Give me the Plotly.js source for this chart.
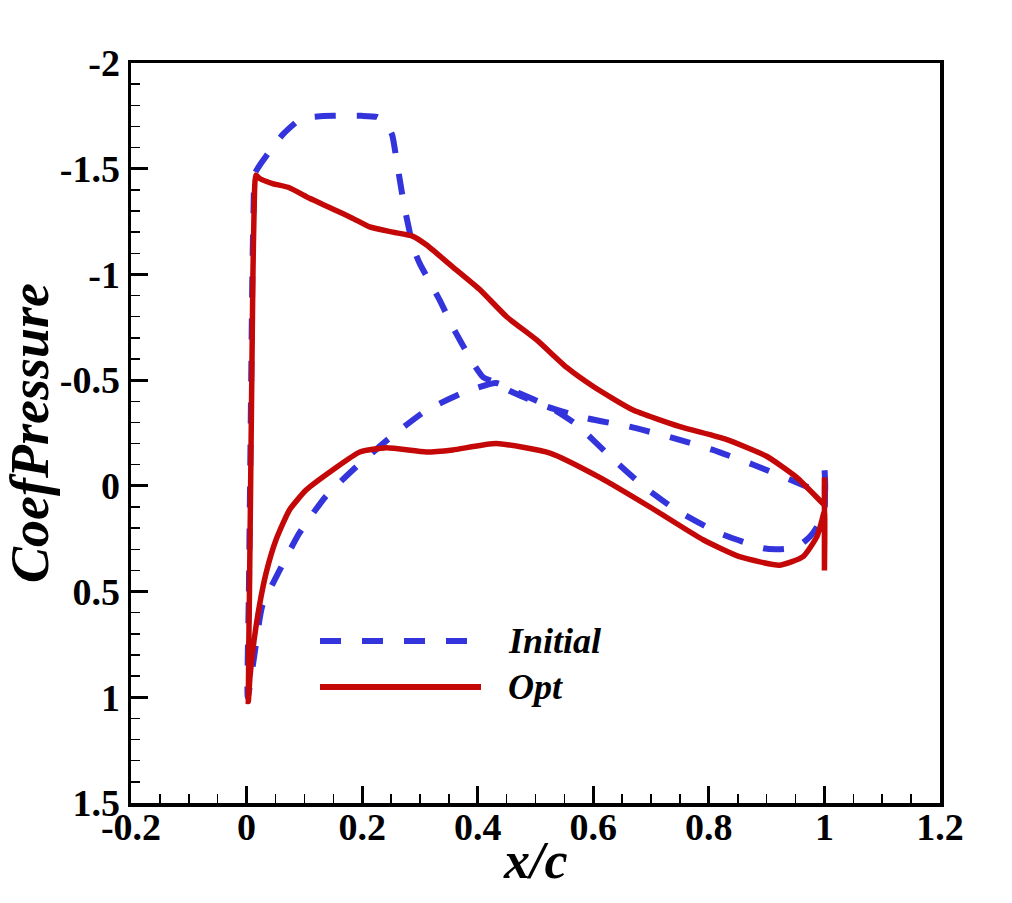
<!DOCTYPE html>
<html>
<head>
<meta charset="utf-8">
<script src="https://cdn.plot.ly/plotly-3.0.1.min.js"></script>
<style>html,body{margin:0;padding:0;background:#fff;}#chart{width:1012px;height:903px;}</style>
</head>
<body>
<div id="chart"></div>
<script>
// ---- Data ----
const seriesNames = ["Initial", "Opt"];

// Initial: upper surface (LE -> TE), trailing-edge base, lower surface (TE -> LE)
const initialX = [0.002, 0.004, 0.006, 0.008, 0.010, 0.012, 0.015, 0.034, 0.062, 0.091, 0.114, 0.150, 0.200, 0.225, 0.240, 0.252, 0.259, 0.265, 0.273, 0.280, 0.288, 0.300, 0.322, 0.334, 0.357, 0.369, 0.392, 0.409, 0.432, 0.455, 0.519, 0.588, 0.663, 0.733, 0.807, 0.877, 0.940, 0.975, 1.000,
  1.000, 1.000,
  0.987, 0.975, 0.952, 0.920, 0.894, 0.819, 0.744, 0.686, 0.629, 0.571, 0.520, 0.470, 0.432, 0.374, 0.310, 0.247, 0.190, 0.137, 0.091, 0.057, 0.027, 0.013, 0.002];
const initialY = [1.00, 0.50, 0.00, -0.50, -1.00, -1.30, -1.48, -1.56, -1.66, -1.73, -1.745, -1.75, -1.75, -1.745, -1.72, -1.66, -1.55, -1.45, -1.32, -1.23, -1.13, -1.05, -0.94, -0.88, -0.75, -0.69, -0.58, -0.515, -0.487, -0.45, -0.375, -0.32, -0.28, -0.23, -0.17, -0.10, -0.03, 0.01, 0.04,
  -0.085, 0.12,
  0.195, 0.24, 0.29, 0.30, 0.295, 0.225, 0.115, 0.00, -0.14, -0.29, -0.38, -0.44, -0.487, -0.44, -0.355, -0.225, -0.09, 0.05, 0.225, 0.40, 0.57, 0.81, 1.00];

// Opt: upper surface (LE -> TE), trailing-edge base, lower surface (TE -> LE)
const optX = [0.003, 0.005, 0.007, 0.009, 0.011, 0.013, 0.016, 0.022, 0.045, 0.074, 0.109, 0.149, 0.184, 0.213, 0.253, 0.288, 0.311, 0.357, 0.403, 0.450, 0.502, 0.554, 0.600, 0.668, 0.750, 0.830, 0.900, 0.952, 0.996, 1.000,
  1.000, 1.000, 1.000,
  0.995, 0.987, 0.963, 0.923, 0.853, 0.790, 0.698, 0.611, 0.525, 0.432, 0.357, 0.311, 0.242, 0.196, 0.149, 0.103, 0.074, 0.051, 0.034, 0.022, 0.013, 0.006, 0.003];
const optY = [1.02, 0.50, 0.00, -0.50, -1.00, -1.30, -1.47, -1.455, -1.43, -1.41, -1.36, -1.31, -1.265, -1.225, -1.20, -1.18, -1.14, -1.035, -0.93, -0.80, -0.69, -0.56, -0.47, -0.36, -0.28, -0.22, -0.14, -0.04, 0.08, 0.09,
  -0.04, 0.40, 0.12,
  0.17, 0.24, 0.335, 0.375, 0.335, 0.255, 0.10, -0.04, -0.155, -0.20, -0.17, -0.16, -0.18, -0.16, -0.075, 0.02, 0.115, 0.255, 0.41, 0.57, 0.73, 0.90, 1.02];

const xTickVals = [-0.2, 0, 0.2, 0.4, 0.6, 0.8, 1, 1.2];
const xTickText = ["-0.2", "0", "0.2", "0.4", "0.6", "0.8", "1", "1.2"];
const yTickVals = [-2, -1.5, -1, -0.5, 0, 0.5, 1, 1.5];
const yTickText = ["-2", "-1.5", "-1", "-0.5", "0", "0.5", "1", "1.5"];
const xTitle = "x/c";
const yTitle = "CoefPressure";

// ---- Styles ----
const blue = "#3434DC";
const red = "#C40808";
const serif = "Liberation Serif";
const dashPattern = "21px,21px";

const traces = [
  { x: initialX, y: initialY, name: seriesNames[0], mode: "lines",
    line: { color: blue, width: 6, dash: dashPattern, shape: "spline", smoothing: 0.5 } },
  { x: optX, y: optY, name: seriesNames[1], mode: "lines",
    line: { color: red, width: 5.5, shape: "spline", smoothing: 0.5 } }
];

const L = 131, R = 72, T = 63, B = 100, W = 1012, H = 903;
const pw = W - L - R, ph = H - T - B;
const px2x = p => (p - L) / pw;
const py2y = p => (H - B - p) / ph;

const axisCommon = {
  showline: true, linecolor: "#000", linewidth: 3.5, mirror: true,
  showgrid: false, zeroline: false,
  ticks: "inside", ticklen: 17, tickwidth: 3, tickcolor: "#000",
  tickfont: { family: serif, size: 38, color: "#000", weight: "bold" },
  tickmode: "array"
};

const layout = {
  width: W, height: H,
  margin: { l: L, r: R, t: T, b: B },
  paper_bgcolor: "#fff", plot_bgcolor: "#fff",
  showlegend: false,
  xaxis: Object.assign({}, axisCommon, {
    range: [-0.2, 1.2], autorange: false,
    tickvals: xTickVals, ticktext: xTickText,
    ticklabelstandoff: -12,
    minor: { dtick: 0.05, tick0: 0, ticks: "inside", ticklen: 9, tickwidth: 1.5, tickcolor: "#000" }
  }),
  yaxis: Object.assign({}, axisCommon, {
    range: [1.5, -2], autorange: false,
    tickvals: yTickVals, ticktext: yTickText,
    minor: { dtick: 0.1, tick0: 0, ticks: "inside", ticklen: 9, tickwidth: 1.5, tickcolor: "#000" },
    title: { text: yTitle, standoff: 4,
      font: { family: serif, size: 54, color: "#000", weight: "bold", style: "italic" } }
  }),
  shapes: [
    { type: "line", xref: "paper", yref: "paper", x0: px2x(320), x1: px2x(470), y0: py2y(641), y1: py2y(641),
      line: { color: blue, width: 6, dash: dashPattern } },
    { type: "line", xref: "paper", yref: "paper", x0: px2x(320), x1: px2x(481), y0: py2y(687), y1: py2y(687),
      line: { color: red, width: 6 } }
  ],
  annotations: [
    { text: xTitle, xref: "paper", yref: "paper", x: 0.5, y: py2y(860), xanchor: "center", yanchor: "middle",
      showarrow: false, font: { family: serif, size: 52, color: "#000", weight: "bold", style: "italic" } },
    { text: seriesNames[0], xref: "paper", yref: "paper", x: px2x(506), y: py2y(641), xanchor: "left", yanchor: "middle",
      showarrow: false, font: { family: serif, size: 36, color: "#000", weight: "bold", style: "italic" } },
    { text: seriesNames[1], xref: "paper", yref: "paper", x: px2x(506), y: py2y(687), xanchor: "left", yanchor: "middle",
      showarrow: false, font: { family: serif, size: 36, color: "#000", weight: "bold", style: "italic" } }
  ]
};

Plotly.newPlot("chart", traces, layout, { displayModeBar: false, staticPlot: true });
</script>
</body>
</html>
